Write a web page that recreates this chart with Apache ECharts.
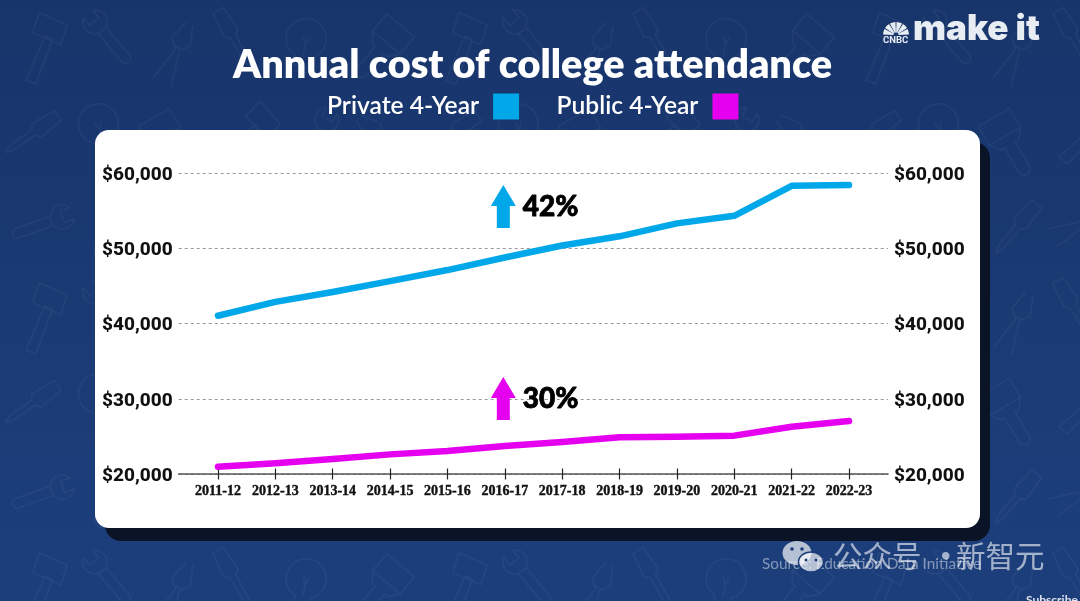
<!DOCTYPE html>
<html>
<head>
<meta charset="utf-8">
<style>
html, body { margin: 0; padding: 0; width: 1080px; height: 601px; overflow: hidden; background: #1a3770; }
#bg { position: absolute; left: 0; top: 0; width: 1080px; height: 601px; }
#main { position: absolute; left: 0; top: 0; width: 1080px; height: 601px; }
</style>
<script src="https://cdn.jsdelivr.net/npm/echarts@6/dist/echarts.min.js"></script>
</head>
<body>
<div id="bg"></div>
<div id="main"></div>
<script>
var years = ['2011-12', '2012-13', '2013-14', '2014-15', '2015-16', '2016-17', '2017-18', '2018-19', '2019-20', '2020-21', '2021-22', '2022-23']
var privateCost = [41050, 42900, 44200, 45660, 47130, 48800, 50390, 51620, 53340, 54350, 58340, 58430]
var publicCost = [20970, 21420, 22000, 22610, 23060, 23720, 24250, 24880, 24960, 25100, 26290, 27050]
var seriesNames = ['Private 4-Year', 'Public 4-Year']
var changeLabels = ['42%', '30%']
var changeAnchors = [55570, 30040]

var blue = '#00a8ea'
var magenta = '#e600f0'
var arrowPath = 'path://M12.5 0 L25 21 L19 21 L19 43 L6 43 L6 21 L0 21 Z'

// faint tools pattern behind the chart
var toolShapes = {
    hammer: 'M-22 -30 l30 -6 l6 20 l-30 6 z M-4 -14 l8 -2 l12 46 l-10 3 z',
    wrench: 'M-6 -34 a12 12 0 1 0 12 0 l0 10 l-12 0 z M-5 -12 l10 0 l0 36 a5 5 0 0 1 -10 0 z',
    driver: 'M-6 -34 l12 0 l2 26 l-5 4 l0 26 l-3 8 l-3 -8 l0 -26 l-5 -4 z',
    brush: 'M-18 -32 l36 0 l0 22 l-36 0 z M-18 -10 l36 0 l-8 10 l-4 0 l0 28 a6 6 0 0 1 -12 0 l0 -28 l-4 0 z',
    bulb: 'M-8 12 a20 20 0 1 1 16 0 l0 10 l-16 0 z M-6 27 l12 0 M-3 -8 l3 8 l3 -8 M0 0 l0 12',
    pliers: 'M-4 -34 l-6 20 l8 8 l-8 36 M4 -34 l6 20 l-8 8 l8 36 M-6 -8 l12 0'
}
var toolPlaces = [
    ['hammer', 40, 50, 35], ['wrench', 110, 40, -40], ['pliers', 175, 55, 25], ['driver', 235, 40, -30],
    ['bulb', 305, 45, 10], ['brush', 380, 50, 40], ['driver', 30, 135, 55], ['bulb', 100, 130, -15],
    ['brush', 170, 145, -30], ['hammer', 245, 135, 60], ['wrench', 315, 140, 30], ['pliers', 385, 140, -50],
    ['wrench', 40, 225, 70], ['brush', 110, 225, 20], ['driver', 175, 230, 40], ['pliers', 240, 225, 65],
    ['hammer', 310, 230, -25], ['bulb', 385, 225, 35]
]
var tile = '<svg xmlns="http://www.w3.org/2000/svg" width="420" height="270" fill="none" stroke="white" stroke-opacity="0.04" stroke-width="1.5" stroke-linejoin="round">'
    + toolPlaces.map(function (p) {
        return '<path transform="translate(' + p[1] + ' ' + p[2] + ') rotate(' + p[3] + ')" d="' + toolShapes[p[0]] + '"/>'
    }).join('')
    + '</svg>'
document.getElementById('bg').style.background = 'url("data:image/svg+xml,' + encodeURIComponent(tile) + '"), linear-gradient(180deg, #18356b 0%, #1c3f7c 100%)'

function money(v) {
    return '{m|$' + String(v).replace(/\B(?=(\d{3})+$)/g, ',') + '}'
}

var moneyLabel = {
    show: true,
    formatter: money,
    margin: 6,
    rich: {
        m: {
            color: '#111',
            fontFamily: 'Roboto',
            fontWeight: 800,
            fontSize: 19,
            lineHeight: 22,
            padding: [4, 0, 0, 0]
        }
    }
}

function changeMark(i, color) {
    return {
        silent: true,
        animation: false,
        data: [{
            coord: ['2016-17', changeAnchors[i]],
            symbol: arrowPath,
            symbolSize: [25, 43],
            symbolOffset: [-1.5, 0],
            itemStyle: { color: color },
            label: {
                show: true,
                formatter: changeLabels[i],
                position: 'right',
                distance: 7,
                color: '#000',
                fontFamily: 'Lato',
                fontWeight: 900,
                fontSize: 28,
                textBorderColor: '#000',
                textBorderWidth: 0.8
            }
        }]
    }
}

var peacock = [0, 1, 2, 3, 4, 5].map(function (i) {
    return {
        type: 'sector',
        z: 5,
        shape: {
            cx: 896, cy: 35, r0: 2.5, r: 13,
            startAngle: Math.PI + i * Math.PI / 6 + 0.04,
            endAngle: Math.PI + (i + 1) * Math.PI / 6 - 0.04
        },
        style: { fill: '#e8ecf3' }
    }
})

var markText = 'rgba(255,255,255,0.6)'

var option = {
    animation: false,
    backgroundColor: 'transparent',
    title: {
        text: 'Annual cost of college attendance',
        left: 228,
        top: 40,
        textStyle: { color: '#fff', fontFamily: 'Lato', fontWeight: 800, fontSize: 39.6 }
    },
    legend: {
        left: 322,
        top: 88.5,
        align: 'right',
        icon: 'rect',
        itemWidth: 26,
        itemHeight: 26,
        itemGap: 37.5,
        data: seriesNames,
        textStyle: { color: '#fff', fontFamily: 'Lato', fontWeight: 600, fontSize: 24.6, padding: [0, 9, 2, 0] }
    },
    grid: [
        { left: 178.7, top: 173.3, width: 709.3, height: 300.7 },
        { left: 218, top: 173.3, width: 631, height: 300.7 }
    ],
    xAxis: [{
        type: 'value',
        gridIndex: 0,
        min: 0,
        max: 1,
        axisLine: { show: true, onZero: false, lineStyle: { color: '#555', width: 1.6 } },
        axisTick: { show: false },
        axisLabel: { show: false },
        splitLine: { show: false }
    }, {
        type: 'category',
        gridIndex: 1,
        data: years,
        boundaryGap: false,
        offset: -5.5,
        axisLine: { show: false },
        axisTick: { show: true, length: 11, alignWithLabel: true, lineStyle: { color: '#222', width: 1.2 } },
        axisLabel: {
            color: '#111',
            interval: 0,
            margin: 16,
            fontFamily: 'Liberation Serif',
            fontWeight: 700,
            fontSize: 14,
            textBorderColor: '#111',
            textBorderWidth: 0.4
        }
    }],
    yAxis: [{
        type: 'value',
        gridIndex: 0,
        position: 'left',
        min: 20000,
        max: 60000,
        interval: 10000,
        axisLine: { show: false },
        axisTick: { show: false },
        axisLabel: moneyLabel,
        splitLine: { show: true, lineStyle: { color: '#999', width: 1, type: [3, 3] } }
    }, {
        type: 'value',
        gridIndex: 0,
        position: 'right',
        min: 20000,
        max: 60000,
        interval: 10000,
        axisLine: { show: false },
        axisTick: { show: false },
        axisLabel: moneyLabel,
        splitLine: { show: false }
    }, {
        type: 'value',
        gridIndex: 1,
        min: 20000,
        max: 60000,
        show: false
    }],
    series: [{
        name: seriesNames[0],
        type: 'line',
        xAxisIndex: 1,
        yAxisIndex: 2,
        data: privateCost,
        showSymbol: false,
        symbol: 'none',
        itemStyle: { color: blue },
        lineStyle: { color: blue, width: 6.5, cap: 'round', join: 'round' },
        markPoint: changeMark(0, blue)
    }, {
        name: seriesNames[1],
        type: 'line',
        xAxisIndex: 1,
        yAxisIndex: 2,
        data: publicCost,
        showSymbol: false,
        symbol: 'none',
        itemStyle: { color: magenta },
        lineStyle: { color: magenta, width: 6.5, cap: 'round', join: 'round' },
        markPoint: changeMark(1, magenta)
    }],
    graphic: [
        { type: 'rect', z: -20, shape: { x: 105, y: 142, width: 885, height: 399, r: 16 }, style: { fill: '#0a1426' } },
        { type: 'rect', z: -10, shape: { x: 95, y: 130, width: 885, height: 398, r: 14 }, style: { fill: '#fff' } },
        { type: 'text', z: 5, style: { x: 913, y: 12, text: 'make it', fill: '#e8ecf3', font: '900 35px Inter, Roboto, sans-serif' } },
        { type: 'text', z: 5, style: { x: 883, y: 36, text: 'CNBC', fill: '#e8ecf3', font: '700 9.5px Roboto, sans-serif' } }
    ].concat(peacock).concat([
        { type: 'text', z: 5, style: { x: 762, y: 557, text: 'Source: Education Data Initiative', fill: 'rgba(255,255,255,0.45)', font: '400 15.3px Lato, sans-serif' } },
        { type: 'text', z: 6, style: { x: 833, y: 541, text: '公众号', fill: markText, font: '400 29.5px "Noto Sans CJK SC", sans-serif' } },
        { type: 'text', z: 6, style: { x: 931, y: 541, text: '·', fill: markText, font: '700 29.5px "Noto Sans CJK SC", sans-serif' } },
        { type: 'text', z: 6, style: { x: 956, y: 541, text: '新智元', fill: markText, font: '400 29.5px "Noto Sans CJK SC", sans-serif' } },
        { type: 'ellipse', z: 6, shape: { cx: 797, cy: 553, rx: 14.5, ry: 12 }, style: { fill: 'rgba(255,255,255,0.68)' } },
        { type: 'ellipse', z: 7, shape: { cx: 811, cy: 562, rx: 12.5, ry: 10 }, style: { fill: 'rgba(255,255,255,0.68)', stroke: '#1c3d78', lineWidth: 1.5 } },
        { type: 'circle', z: 8, shape: { cx: 792, cy: 549, r: 1.8 }, style: { fill: '#1c3d78' } },
        { type: 'circle', z: 8, shape: { cx: 802, cy: 549, r: 1.8 }, style: { fill: '#1c3d78' } },
        { type: 'circle', z: 8, shape: { cx: 806, cy: 560, r: 1.5 }, style: { fill: '#1c3d78' } },
        { type: 'circle', z: 8, shape: { cx: 816, cy: 560, r: 1.5 }, style: { fill: '#1c3d78' } },
        { type: 'text', z: 5, style: { x: 1026, y: 594, text: 'Subscribe', fill: 'rgba(255,255,255,0.85)', font: '700 12px Lato, sans-serif' } }
    ])
}

var chart = echarts.init(document.getElementById('main'))
chart.setOption(option)
</script>
</body>
</html>
